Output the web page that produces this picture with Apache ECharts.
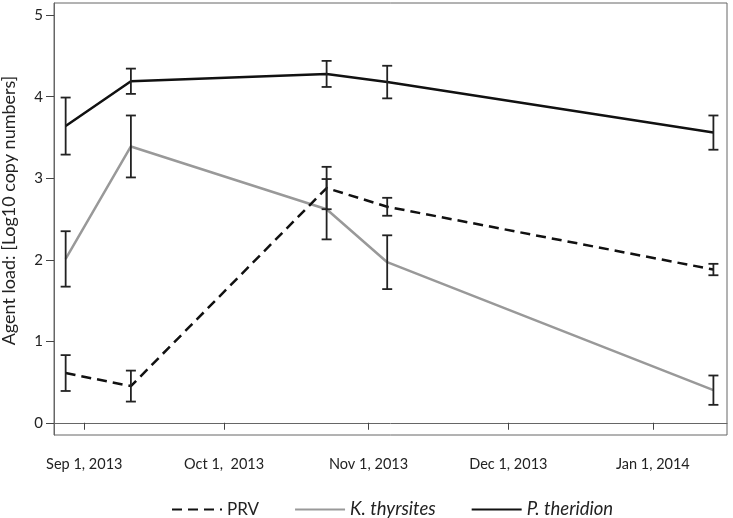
<!DOCTYPE html>
<html><head><meta charset="utf-8">
<script src="https://cdn.jsdelivr.net/npm/echarts@6/dist/echarts.min.js"></script>
<style>html,body{margin:0;padding:0;background:#fff}#c{width:733px;height:518px}</style>
</head><body><div id="c"></div>
<script>
// sampling dates (UTC)
var dates = [Date.UTC(2013,7,28), Date.UTC(2013,8,11), Date.UTC(2013,9,23), Date.UTC(2013,10,5), Date.UTC(2014,0,14)];
var prv    = [0.61, 0.45, 2.88, 2.65, 1.88];
var prvErr = [0.22, 0.19, 0.26, 0.11, 0.07];
var kt     = [2.01, 3.39, 2.62, 1.97, 0.40];
var ktErr  = [0.34, 0.38, 0.37, 0.33, 0.18];
var pt     = [3.64, 4.19, 4.28, 4.18, 3.56];
var ptErr  = [0.35, 0.155, 0.16, 0.20, 0.21];
var xTicks = [Date.UTC(2013,8,1), Date.UTC(2013,9,1), Date.UTC(2013,10,1), Date.UTC(2013,11,1), Date.UTC(2014,0,1)];
var xTickLabels = ['Sep 1, 2013', 'Oct 1,  2013', 'Nov 1, 2013', 'Dec 1, 2013', 'Jan 1, 2014'];
var yTicks = [0, 1, 2, 3, 4, 5];
var names = ['PRV', 'K. thyrsites', 'P. theridion'];

var FONT = 'Lato';
function pairs(v){ return dates.map(function(d,i){ return [d, v[i]]; }); }
function errs(v,e){ return dates.map(function(d,i){ return [d, v[i]-e[i], v[i]+e[i]]; }); }
function errSeries(v,e){
  return {
    type:'custom', silent:true, z:5,
    data: errs(v,e),
    encode:{x:0, y:[1,2]},
    renderItem: function(params, api){
      var lo = api.coord([api.value(0), api.value(1)]);
      var hi = api.coord([api.value(0), api.value(2)]);
      var w = 5;
      var st = {stroke:'#222', lineWidth:1.8};
      return {type:'group', children:[
        {type:'line', shape:{x1:lo[0],y1:lo[1],x2:hi[0],y2:hi[1]}, style:st},
        {type:'line', shape:{x1:lo[0]-w,y1:lo[1],x2:lo[0]+w,y2:lo[1]}, style:st},
        {type:'line', shape:{x1:hi[0]-w,y1:hi[1],x2:hi[0]+w,y2:hi[1]}, style:st}
      ]};
    }
  };
}
var chart = echarts.init(document.getElementById('c'));
chart.setOption({
  animation:false,
  grid:{left:54, right:6, top:3, bottom:83, show:true, borderColor:'#666', borderWidth:1,
        containLabel:false, outerBoundsMode:'none'},
  xAxis:{
    type:'value', scale:true,
    min: Date.UTC(2013,7,25,12), max: Date.UTC(2014,0,16,22),
    axisLine:{show:true, lineStyle:{color:'#666', width:1}},
    axisTick:{show:true, length:7, lineStyle:{color:'#444'}, customValues:xTicks},
    axisLabel:{customValues:xTicks, color:'#222', fontFamily:FONT, fontSize:14.5, margin:22,
      formatter:function(v){ var i = xTicks.indexOf(v); return i>=0 ? xTickLabels[i] : ''; }},
    splitLine:{show:false}
  },
  yAxis:{
    type:'value', min:-0.15, max:5.15,
    name:'Agent load: [Log10 copy numbers]', nameLocation:'middle', nameGap:36,
    nameTextStyle:{color:'#222', fontFamily:FONT, fontSize:18, padding:[0,0,0,17]},
    axisLine:{show:true, lineStyle:{color:'#666', width:1}},
    axisTick:{show:true, length:8, lineStyle:{color:'#444'}, customValues:yTicks},
    axisLabel:{customValues:yTicks, color:'#222', fontFamily:FONT, fontSize:15, margin:11},
    splitLine:{show:false}
  },
  legend:{
    data:names, top:495, left:166, itemWidth:50, itemHeight:12, itemGap:35,
    itemStyle:{opacity:0},
    textStyle:{color:'#222', fontFamily:FONT, fontSize:17, rich:{i:{fontStyle:'italic', fontFamily:FONT, fontSize:18.5, color:'#222'}}},
    formatter:function(n){ return n==='PRV' ? n : '{i|'+n+'}'; }
  },
  series:[
    {name:names[0], type:'line', data:pairs(prv), symbol:'none', z:3,
      lineStyle:{color:'#111', width:2.5, type:[10,6]}, itemStyle:{color:'#111'}},
    {name:names[1], type:'line', data:pairs(kt), symbol:'none', z:2,
      lineStyle:{color:'#999', width:2.5}, itemStyle:{color:'#999'}},
    {name:names[2], type:'line', data:pairs(pt), symbol:'none', z:3,
      lineStyle:{color:'#111', width:2.5}, itemStyle:{color:'#111'}},
    errSeries(prv, prvErr), errSeries(kt, ktErr), errSeries(pt, ptErr)
  ]
});
</script></body></html>
